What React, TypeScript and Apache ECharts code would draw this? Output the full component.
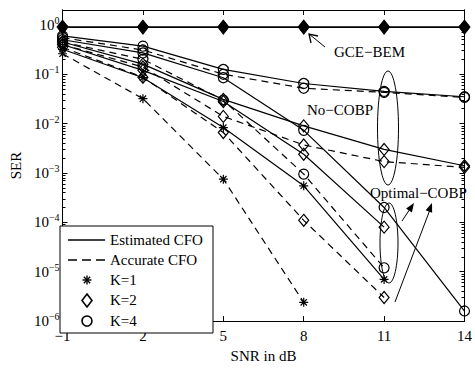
import React, { useEffect, useRef } from "react";
import * as echarts from "echarts";

const snr = [-1, 2, 5, 8, 11, 14];
const xTicks = [-1, 2, 5, 8, 11, 14];
const yDecades = [-6, -5, -4, -3, -2, -1, 0];

const gceBem = [0.9, 0.9, 0.9, 0.9, 0.9, 0.9];
const noCobpK4Est = [0.6, 0.37, 0.125, 0.065, 0.045, 0.035];
const noCobpK4Acc = [0.55, 0.31, 0.1, 0.052, 0.043, 0.034];
const optK4Est = [0.5, 0.27, 0.085, 0.0073, 0.0002, 0.0000016];
const optK4Acc = [0.45, 0.2, 0.03, 0.00095, 0.000012];
const noCobpK2Est = [0.45, 0.16, 0.031, 0.009, 0.003, 0.0014];
const noCobpK2Acc = [0.4, 0.14, 0.014, 0.0037, 0.0017, 0.0013];
const optK2Est = [0.4, 0.12, 0.028, 0.0024, 0.00008];
const optK2Acc = [0.35, 0.087, 0.0066, 0.00011, 0.000003];
const k1Est = [0.32, 0.085, 0.0083, 0.00055, 0.000007];
const k1Acc = [0.26, 0.032, 0.00075, 0.0000024];

const FONT = "'Liberation Serif', 'Times New Roman', serif";
const STAR = "path://M5,0L5,10M0,5L10,5M1.5,1.5L8.5,8.5M1.5,8.5L8.5,1.5";
const DASH = [7, 5];

const minorTicks: number[] = [];
for (let n = -6; n <= 0; n++) {
  for (let k = 2; k <= 9; k++) {
    const v = n + Math.log10(k);
    if (v <= Math.log10(2) + 1e-9) minorTicks.push(v);
  }
}

function toData(vals: number[]) {
  return vals.map((v, i) => [snr[i], Math.log10(v)]);
}

function mk(vals: number[], dashed: boolean, sym: string) {
  const size = sym === "diamond" ? [10, 12] : sym === "circle" ? 10 : 9;
  return {
    type: "line",
    data: toData(vals),
    symbol: sym,
    symbolSize: size,
    showAllSymbol: true,
    silent: true,
    lineStyle: { color: "#000", width: 1.2, type: dashed ? DASH : "solid" },
    itemStyle: { color: "rgba(0,0,0,0)", borderColor: "#000", borderWidth: 1.2 },
  };
}

function arrowHead(tx: number, ty: number, fx: number, fy: number, len: number, half: number) {
  const dx = tx - fx, dy = ty - fy;
  const d = Math.sqrt(dx * dx + dy * dy);
  const ux = dx / d, uy = dy / d;
  const bx = tx - ux * len, by = ty - uy * len;
  return [
    [tx, ty],
    [bx - uy * half, by + ux * half],
    [bx + uy * half, by - ux * half],
  ];
}

export default function App() {
  const ref = useRef<HTMLDivElement>(null);
  useEffect(() => {
    if (!ref.current) return;
    const chart = echarts.init(ref.current, undefined, { renderer: "svg" });
    const axisLine = { show: true, onZero: false, lineStyle: { color: "#000", width: 1 } };
    const tickStyle = { color: "#000", width: 1 };
    const yMin = -6, yMax = Math.log10(2);
    const xFmt = (v: number) => (v < 0 ? "\u2212" + Math.abs(v) : String(v));

    const a1 = arrowHead(414, 203, 402, 221, 9, 3.5);
    const a2 = arrowHead(432, 203, 395, 302, 9, 3.5);

    const legendX = 87;
    chart.setOption({
      animation: false,
      backgroundColor: "#fff",
      grid: { left: 60, right: 4, top: 10, bottom: 35, containLabel: false },
      xAxis: [
        {
          type: "value", position: "bottom", min: -1, max: 14,
          axisLine, splitLine: { show: false },
          axisTick: { show: true, inside: true, length: 5, customValues: xTicks, lineStyle: tickStyle },
          axisLabel: { customValues: xTicks, formatter: xFmt, fontFamily: FONT, fontSize: 15, color: "#000", margin: 7 },
          name: "SNR in dB", nameLocation: "middle", nameGap: 25,
          nameTextStyle: { fontFamily: FONT, fontSize: 15, color: "#000" },
        },
        {
          type: "value", position: "top", min: -1, max: 14,
          axisLine, splitLine: { show: false },
          axisTick: { show: true, inside: true, length: 5, customValues: xTicks, lineStyle: tickStyle },
          axisLabel: { show: false },
        },
      ],
      yAxis: [
        {
          type: "value", position: "left", min: yMin, max: yMax,
          axisLine, splitLine: { show: false },
          axisTick: { show: true, inside: true, length: 5, customValues: yDecades, lineStyle: tickStyle },
          axisLabel: {
            customValues: yDecades, margin: 3, color: "#000",
            formatter: (v: number) => `{b|10}{s|${v === 0 ? "0" : "\u2212" + Math.abs(v)}}`,
            rich: {
              b: { fontFamily: FONT, fontSize: 15, color: "#000" },
              s: { fontFamily: FONT, fontSize: 10, color: "#000", padding: [0, 0, 9, 0] },
            },
          },
          name: "SER", nameLocation: "middle", nameGap: 33, nameRotate: 90,
          nameTextStyle: { fontFamily: FONT, fontSize: 15, color: "#000" },
        },
        {
          type: "value", position: "left", min: yMin, max: yMax,
          axisLine, splitLine: { show: false },
          axisTick: { show: true, inside: true, length: 3, customValues: minorTicks, lineStyle: tickStyle },
          axisLabel: { show: false },
        },
        {
          type: "value", position: "right", min: yMin, max: yMax,
          axisLine, splitLine: { show: false },
          axisTick: { show: true, inside: true, length: 5, customValues: yDecades, lineStyle: tickStyle },
          axisLabel: { show: false },
        },
        {
          type: "value", position: "right", min: yMin, max: yMax,
          axisLine, splitLine: { show: false },
          axisTick: { show: true, inside: true, length: 3, customValues: minorTicks, lineStyle: tickStyle },
          axisLabel: { show: false },
        },
      ],
      series: [
        {
          type: "line", data: toData(gceBem), symbol: "diamond", symbolSize: [11, 14], silent: true,
          lineStyle: { color: "#000", width: 1.8 }, itemStyle: { color: "#000", borderColor: "#000" },
        },
        {
          type: "line", data: toData(gceBem), symbol: "circle", symbolSize: 9, silent: true,
          lineStyle: { width: 0 }, itemStyle: { color: "#000" },
        },
        mk(noCobpK4Est, false, "circle"),
        mk(noCobpK4Acc, true, "circle"),
        mk(optK4Est, false, "circle"),
        mk(optK4Acc, true, "circle"),
        mk(noCobpK2Est, false, "diamond"),
        mk(noCobpK2Acc, true, "diamond"),
        mk(optK2Est, false, "diamond"),
        mk(optK2Acc, true, "diamond"),
        mk(k1Est, false, STAR),
        mk(k1Acc, true, STAR),
      ],
      graphic: [
        { type: "text", left: 334, top: 44, style: { text: "GCE\u2212BEM", font: `15px ${FONT}`, fill: "#000" } },
        { type: "line", shape: { x1: 325, y1: 47, x2: 309, y2: 34 }, style: { stroke: "#000", lineWidth: 1 } },
        { type: "polyline", shape: { points: [[311, 43], [309, 34], [318, 36]] }, style: { stroke: "#000", lineWidth: 1.3, fill: null } },
        { type: "text", left: 307, top: 102, style: { text: "No\u2212COBP", font: `15px ${FONT}`, fill: "#000" } },
        { type: "ellipse", shape: { cx: 388, cy: 128, rx: 10.5, ry: 57 }, style: { stroke: "#000", lineWidth: 1, fill: null } },
        { type: "text", left: 370, top: 185, style: { text: "Optimal\u2212COBP", font: `15px ${FONT}`, fill: "#000" } },
        { type: "ellipse", shape: { cx: 389, cy: 243, rx: 9, ry: 40 }, style: { stroke: "#000", lineWidth: 1, fill: null } },
        { type: "line", shape: { x1: 402, y1: 221, x2: 412, y2: 206 }, style: { stroke: "#000", lineWidth: 1 } },
        { type: "polygon", shape: { points: a1 }, style: { fill: "#000" } },
        { type: "line", shape: { x1: 395, y1: 302, x2: 431, y2: 207 }, style: { stroke: "#000", lineWidth: 1 } },
        { type: "polygon", shape: { points: a2 }, style: { fill: "#000" } },
        { type: "rect", shape: { x: 60, y: 226, width: 153, height: 107 }, style: { fill: "#fff", stroke: "#000", lineWidth: 1 }, z: 10 },
        { type: "line", shape: { x1: 68, y1: 240, x2: 105, y2: 240 }, style: { stroke: "#000", lineWidth: 1.3 }, z: 11 },
        { type: "line", shape: { x1: 68, y1: 260, x2: 105, y2: 260 }, style: { stroke: "#000", lineWidth: 1.3, lineDash: [9, 5] }, z: 11 },
        {
          type: "group", x: legendX, y: 280, z: 11,
          children: [
            { type: "line", shape: { x1: 0, y1: -4.5, x2: 0, y2: 4.5 }, style: { stroke: "#000", lineWidth: 1.4 }, z: 11 },
            { type: "line", shape: { x1: -4.5, y1: 0, x2: 4.5, y2: 0 }, style: { stroke: "#000", lineWidth: 1.4 }, z: 11 },
            { type: "line", shape: { x1: -3.2, y1: -3.2, x2: 3.2, y2: 3.2 }, style: { stroke: "#000", lineWidth: 1.4 }, z: 11 },
            { type: "line", shape: { x1: -3.2, y1: 3.2, x2: 3.2, y2: -3.2 }, style: { stroke: "#000", lineWidth: 1.4 }, z: 11 },
          ],
        },
        { type: "polygon", shape: { points: [[legendX, 294], [legendX + 5, 300.5], [legendX, 307], [legendX - 5, 300.5]] }, style: { fill: null, stroke: "#000", lineWidth: 1.6 }, z: 11 },
        { type: "circle", shape: { cx: legendX, cy: 321, r: 5 }, style: { fill: null, stroke: "#000", lineWidth: 1.6 }, z: 11 },
        { type: "text", left: 110, top: 232, z: 11, style: { text: "Estimated CFO", font: `15px ${FONT}`, fill: "#000" } },
        { type: "text", left: 110, top: 252, z: 11, style: { text: "Accurate CFO", font: `15px ${FONT}`, fill: "#000" } },
        { type: "text", left: 110, top: 272, z: 11, style: { text: "K=1", font: `15px ${FONT}`, fill: "#000" } },
        { type: "text", left: 110, top: 292, z: 11, style: { text: "K=2", font: `15px ${FONT}`, fill: "#000" } },
        { type: "text", left: 110, top: 313, z: 11, style: { text: "K=4", font: `15px ${FONT}`, fill: "#000" } },
      ],
    });
    return () => chart.dispose();
  }, []);
  return (
    <div
      ref={ref}
      style={{ position: "fixed", left: 0, top: 0, width: 475, height: 368, background: "#fff" }}
    />
  );
}
